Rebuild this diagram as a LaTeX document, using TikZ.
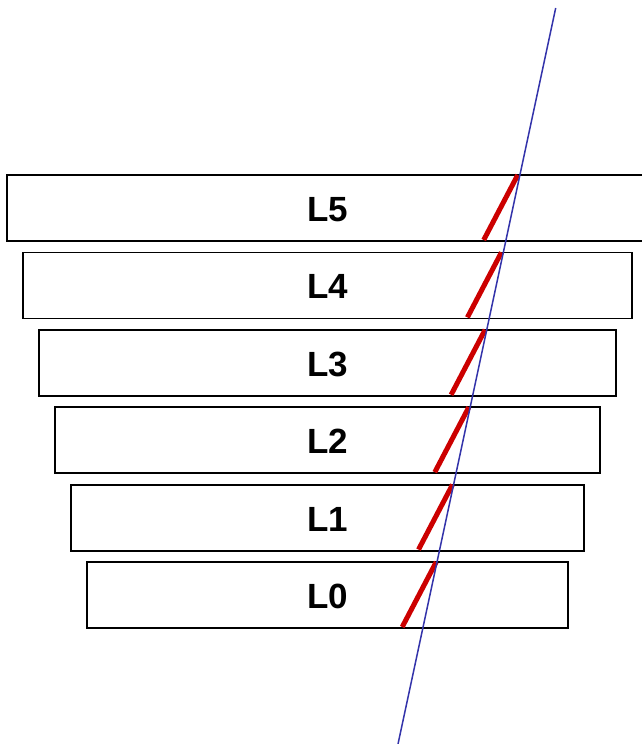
\documentclass[tikz,border=0pt]{standalone}
\usepackage{fontspec}
\setmainfont{Liberation Sans}
\begin{document}
\begin{tikzpicture}[x=1pt,y=-1pt,
  layerbox/.style={draw=black,line width=1.8pt,fill=white,rectangle,inner sep=0pt,
    text height=27pt,text depth=0pt,
    font=\fontsize{35}{42}\selectfont\bfseries},
  redseg/.style={draw={rgb,255:red,204;green,0;blue,0},line width=5pt},
  blueline/.style={draw={rgb,255:red,51;green,51;blue,170},line width=1.5pt}]
\useasboundingbox (0,0) rectangle (642,744);
\foreach \k/\lab in {0/5,1/4,2/3,3/2,4/1,5/0}{
  \pgfmathsetmacro{\yc}{208+77.4*\k}
  \pgfmathsetmacro{\w}{641-32*\k}
  \node[layerbox,minimum width=\w pt,minimum height=66pt] (L\lab) at (327.5,\yc) {L\lab};
}
\foreach \k/\lab in {0/5,1/4,2/3,3/2,4/1,5/0}{
  \pgfmathsetmacro{\xt}{517.7-16.3*\k}
  \pgfmathsetmacro{\yt}{175+77.4*\k}
  \coordinate (rt\lab) at (\xt,\yt);
  \coordinate (rb\lab) at (\xt-34,\yt+65);
  \draw[redseg] (rt\lab) -- (rb\lab);
}
\coordinate (btop) at (555.7,8);
\coordinate (bbot) at (398,744);
\draw[blueline] (btop) -- (bbot);
\end{tikzpicture}
\end{document}
